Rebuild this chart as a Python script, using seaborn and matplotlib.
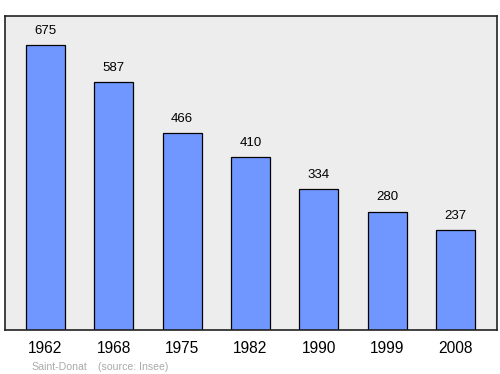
import numpy as np
import pandas as pd
import seaborn as sns
import matplotlib
matplotlib.use('Agg')
import matplotlib.pyplot as plt

years = ['1962', '1968', '1975', '1982', '1990', '1999', '2008']
population = [675, 587, 466, 410, 334, 280, 237]

df = pd.DataFrame({'year': years, 'pop': population})

sns.set_style('white')
plt.rcParams['font.family'] = ['Liberation Sans', 'DejaVu Sans']
plt.rcParams['text.color'] = 'black'
plt.rcParams['xtick.color'] = 'black'

fig = plt.figure(figsize=(5, 3.74), dpi=100)
ax = fig.add_axes([0.01, 0.1176, 0.984, 0.8396])
ax.set_facecolor('#ededed')

sns.barplot(data=df, x='year', y='pop', color='#7097ff', saturation=1,
            width=0.57, edgecolor='black', linewidth=0.9, ax=ax)

# valeurs au-dessus des barres
for i, v in enumerate(population):
    ax.text(i, v + 20, str(v), ha='center', va='bottom', fontsize=9.5)

ax.set_xlim(-0.593, 6.607)
ax.set_ylim(0, 744)
ax.set_yticks([])
ax.set_xlabel('')
ax.set_ylabel('')
ax.tick_params(axis='x', length=0, labelsize=11.2, pad=8)
for s in ax.spines.values():
    s.set_color('#222222')
    s.set_linewidth(1.2)

fig.text(0.062, 0.01, 'Saint-Donat', color='#aaaaaa', fontsize=7.6)
fig.text(0.196, 0.01, '(source: Insee)', color='#aaaaaa', fontsize=7.6)

fig.savefig('out.png', dpi=100)
